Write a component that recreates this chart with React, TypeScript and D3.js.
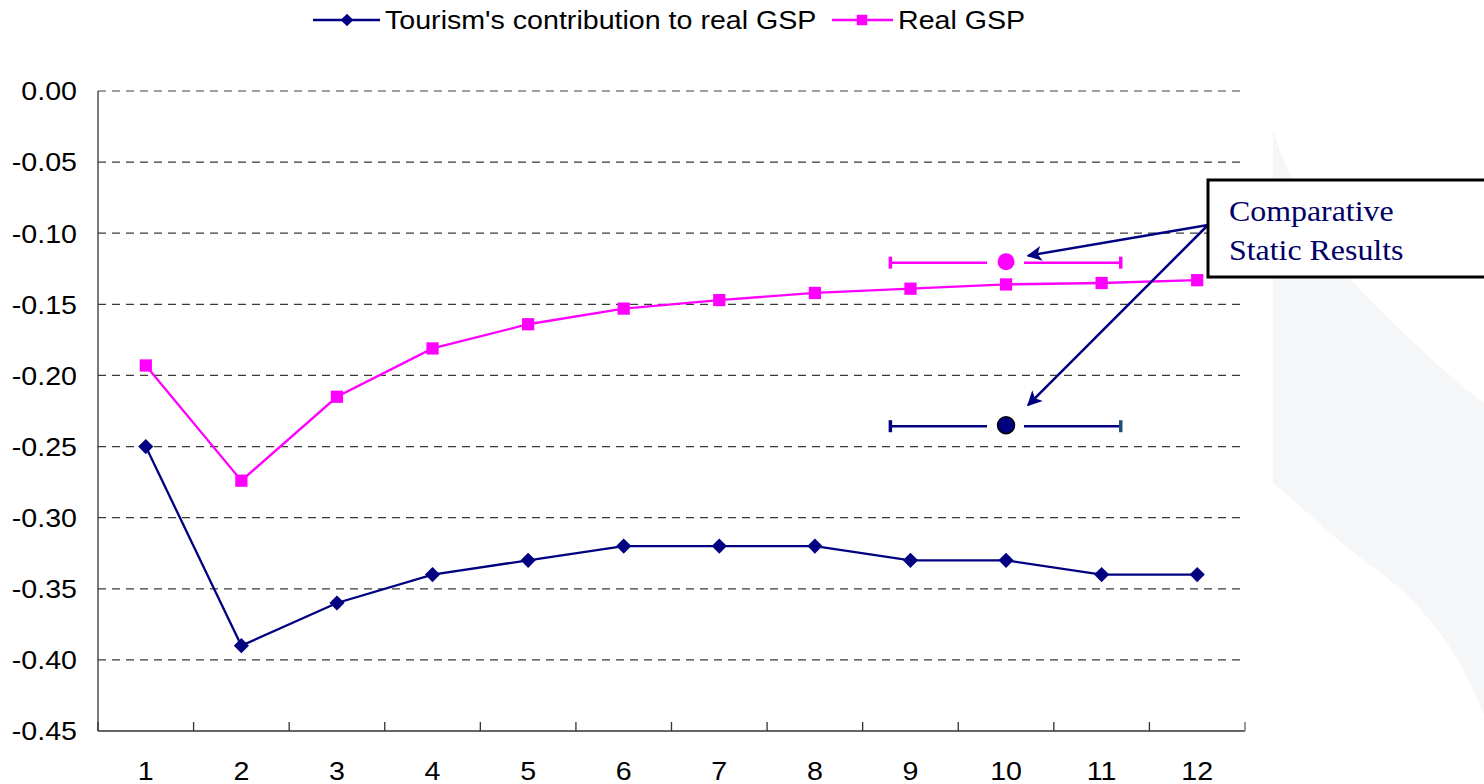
import React from 'react'
import * as d3 from 'd3'

// quarters after the shock
const periods = [1, 2, 3, 4, 5, 6, 7, 8, 9, 10, 11, 12]
const tourismContribution = [-0.25, -0.39, -0.36, -0.34, -0.33, -0.32, -0.32, -0.32, -0.33, -0.33, -0.34, -0.34]
const realGSP = [-0.193, -0.274, -0.215, -0.181, -0.164, -0.153, -0.147, -0.142, -0.139, -0.136, -0.135, -0.133]
const yTicks = [0, -0.05, -0.1, -0.15, -0.2, -0.25, -0.3, -0.35, -0.4, -0.45]
const legendLabels = ["Tourism's contribution to real GSP", 'Real GSP']
const noteLines = ['Comparative', 'Static Results']
// comparative static results (long run), shown at period 10
const staticPeriod = 10
const staticTourism = -0.235
const staticGSP = -0.12

const NAVY = '#000080'
const PINK = '#ff00ff'

const W = 1484, H = 784
const left = 98, right = 1245, top = 91, bottom = 731

// the original is a bit wider than tall, so text gets stretched sideways
function Txt({ x, y, anchor = 'start', size = 26, family = '"Liberation Sans", Arial, sans-serif', fill = '#000', dy, children }: any) {
    return (
        <g transform={`translate(${x},${y}) scale(1.1,1)`}>
            <text textAnchor={anchor} dy={dy} fontFamily={family} fontSize={size} fill={fill}>{children}</text>
        </g>
    )
}

function App() {
    const x = d3.scaleBand<number>().domain(periods).range([left, right]).padding(0)
    const xc = (p: number) => (x(p) as number) + x.bandwidth() / 2
    const xLin = d3.scaleLinear().domain([0.5, 12.5]).range([left, right])
    const y = d3.scaleLinear().domain([-0.45, 0]).range([bottom, top])

    const line = d3.line<number>().x((d, i) => xc(periods[i])).y(d => y(d))
    const diamond = d3.symbol(d3.symbolSquare, 115)()
    const square = d3.symbol(d3.symbolSquare, 150)()

    const errBar = (v: number, color: string, capColor: string, fill: string, key: string) => {
        const cy = y(v)
        const cx = xLin(staticPeriod)
        const x0 = xLin(staticPeriod - 1.21)
        const x1 = xLin(staticPeriod + 1.2)
        return (
            <g key={key}>
                <line x1={x0} x2={cx - 19} y1={cy + 1} y2={cy + 1} stroke={color} strokeWidth={2.5} />
                <line x1={cx + 18} x2={x1} y1={cy + 1} y2={cy + 1} stroke={color} strokeWidth={2.5} />
                <line x1={x0} x2={x0} y1={cy - 5} y2={cy + 7} stroke={color} strokeWidth={3.5} />
                <line x1={x1} x2={x1} y1={cy - 5} y2={cy + 7} stroke={capColor} strokeWidth={3.5} />
                <circle cx={cx} cy={cy} r={8.5} fill={fill} stroke={fill === PINK ? 'none' : '#000'} strokeWidth={1.5} />
            </g>
        )
    }

    const arrowStart: [number, number] = [1208, 225]
    const serif = '"Liberation Serif", "Times New Roman", serif'

    return (
        <svg width={W} height={H} style={{ position: 'absolute', left: 0, top: 0, background: '#fff' }}>
            <defs>
                <marker id="ah" viewBox="0 0 10 10" refX="9" refY="5" markerWidth="7" markerHeight="6" orient="auto" markerUnits="strokeWidth">
                    <path d="M0,0 L10,5 L0,10 L2.5,5 z" fill={NAVY} />
                </marker>
            </defs>

            {/* faint background swoosh */}
            <path d="M1273,130 C1290,185 1330,262 1370,300 C1410,340 1450,378 1484,403 L1484,715 C1460,650 1420,600 1370,565 C1330,535 1300,505 1273,483 Z" fill="#f5f6f8" />

            {/* grid */}
            {yTicks.filter(t => t > -0.45).map(t => (
                <line key={t} x1={left} x2={right} y1={y(t)} y2={y(t)}
                    stroke={t === 0 ? '#808080' : '#3a3a3a'} strokeWidth={1.3} strokeDasharray="8,6" />
            ))}

            {/* axes */}
            <line x1={left} x2={left} y1={top} y2={bottom} stroke="#333" strokeWidth={1.3} />
            <line x1={left} x2={right} y1={bottom} y2={bottom} stroke="#333" strokeWidth={1.3} />
            {periods.map(p => (
                <line key={'t' + p} x1={x(p)} x2={x(p)} y1={bottom} y2={bottom - 9} stroke="#333" strokeWidth={1.3} />
            ))}
            <line x1={right} x2={right} y1={bottom} y2={bottom - 9} stroke="#777" strokeWidth={1.5} />

            {yTicks.map(t => (
                <Txt key={'yl' + t} x={77} y={y(t)} dy="0.36em" anchor="end">{t.toFixed(2)}</Txt>
            ))}
            {periods.map(p => (
                <Txt key={'xl' + p} x={xc(p)} y={780} anchor="middle">{p}</Txt>
            ))}

            {/* series */}
            <path d={line(realGSP) || ''} fill="none" stroke={PINK} strokeWidth={2.3} />
            <path d={line(tourismContribution) || ''} fill="none" stroke={NAVY} strokeWidth={2.3} />
            {realGSP.map((v, i) => (
                <path key={'s' + i} d={square || ''} transform={`translate(${xc(periods[i])},${y(v)})`} fill={PINK} />
            ))}
            {tourismContribution.map((v, i) => (
                <path key={'d' + i} d={diamond || ''} transform={`translate(${xc(periods[i])},${y(v)}) rotate(45)`} fill={NAVY} />
            ))}

            {/* comparative static results */}
            {errBar(staticGSP, PINK, PINK, PINK, 'eg')}
            {errBar(staticTourism, NAVY, '#1f4e79', NAVY, 'et')}

            <line x1={arrowStart[0]} y1={arrowStart[1]} x2={xLin(staticPeriod) + 22} y2={y(staticGSP) - 6}
                stroke={NAVY} strokeWidth={2.5} markerEnd="url(#ah)" />
            <line x1={arrowStart[0]} y1={arrowStart[1]} x2={xLin(staticPeriod) + 22} y2={y(staticTourism) - 20}
                stroke={NAVY} strokeWidth={2.5} markerEnd="url(#ah)" />

            <rect x={1208} y={180} width={300} height={97} fill="#fff" stroke="#000" strokeWidth={3} />
            {noteLines.map((s, i) => (
                <Txt key={s} x={1229} y={221 + i * 39} size={29} family={serif} fill="#000066">{s}</Txt>
            ))}

            {/* legend */}
            <line x1={313} x2={380} y1={20} y2={20} stroke={NAVY} strokeWidth={2.5} />
            <path d={d3.symbol(d3.symbolSquare, 80)() || ''} transform="translate(347,20) rotate(45)" fill={NAVY} />
            <Txt x={385} y={29}>{legendLabels[0]}</Txt>
            <line x1={832} x2={893} y1={20} y2={20} stroke={PINK} strokeWidth={2.5} />
            <path d={d3.symbol(d3.symbolSquare, 110)() || ''} transform="translate(862,20)" fill={PINK} />
            <Txt x={898} y={29}>{legendLabels[1]}</Txt>
        </svg>
    )
}

export default App
